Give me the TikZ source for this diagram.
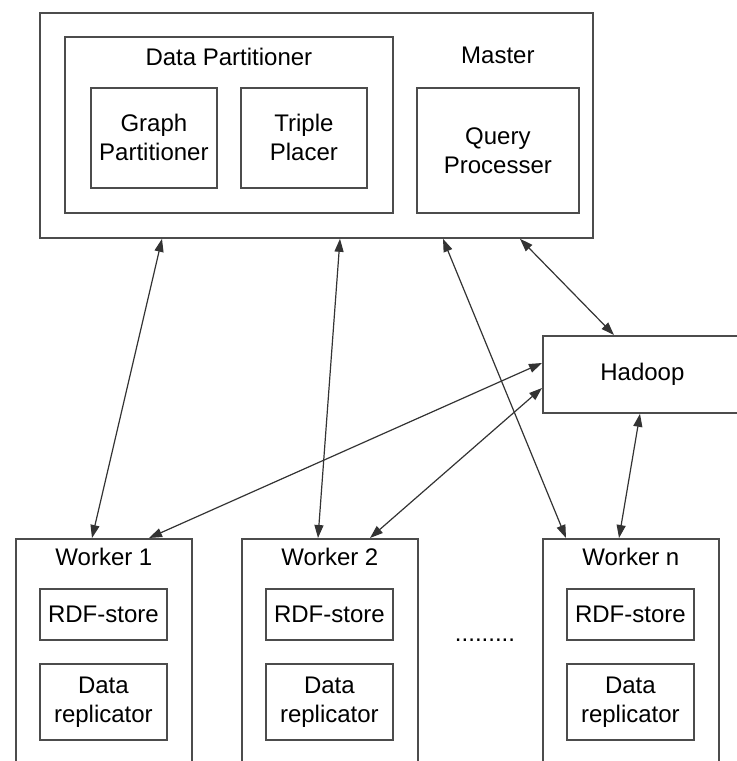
\documentclass[tikz,border=0pt]{standalone}
\usepackage{fontspec}
\setmainfont{Liberation Sans}
\usetikzlibrary{arrows.meta,calc}
\tikzset{
  box/.style={draw=black!70, line width=.9pt, inner sep=0pt, anchor=north west,
    align=center, font=\fontsize{12}{14.5}\selectfont},
  caption/.style={inner sep=0pt, font=\fontsize{12}{14.5}\selectfont},
  link/.style={{Triangle[length=6.5pt,width=4.5pt]}-{Triangle[length=6.5pt,width=4.5pt]},
    draw=black!80, line width=.6pt},
}
\begin{document}
\begin{tikzpicture}[x=0.5pt,y=-0.5pt]
\clip (0,0) rectangle (737,761);
% master and its parts
\node[box, minimum width=276.5pt, minimum height=112.5pt] (master) at (39,12) {};
\node[box, minimum width=164pt, minimum height=88pt] (dpart) at (64,36) {};
\node[caption] at ($(dpart.north)+(0,21)$) {Data Partitioner};
\node[box, minimum width=63pt, minimum height=50pt] (gpart) at (90,87) {Graph\\Partitioner};
\node[box, minimum width=63pt, minimum height=50pt] (tplacer) at (240,87) {Triple\\Placer};
\node[box, minimum width=81pt, minimum height=62.5pt] (qproc) at (416,87) {Query\\Processer};
\node[caption] at ($(qproc.north)+(0,-32)$) {Master};
% hadoop
\node[box, minimum width=99.5pt, minimum height=38.5pt] (hadoop) at (542,335) {Hadoop};
% workers
\foreach \x/\name/\txt in {15/w1/Worker 1, 241/w2/Worker 2, 542/wn/Worker n} {
  \node[box, minimum width=88pt, minimum height=121pt] (\name) at (\x,538) {};
  \node[caption] at ($(\name.north)+(0,19)$) {\txt};
  \node[box, minimum width=63.5pt, minimum height=25.5pt] (\name-rdf)
    at ($(\name.north west)+(24,50)$) {RDF-store};
  \node[box, minimum width=63.5pt, minimum height=38pt] (\name-rep)
    at ($(\name.north west)+(24,125)$) {Data\\replicator};
}
\node[caption] (dots) at (485,640) {.........};
% connections
\draw[link] ($(master.south west)+(123,0)$) -- ($(w1.north west)+(77,0)$);
\draw[link] ($(master.south west)+(301,0)$) -- ($(w2.north west)+(77,0)$);
\draw[link] ($(master.south west)+(404,0)$) -- ($(wn.north west)+(24,0)$);
\draw[link] ($(master.south west)+(481,0)$) -- ($(hadoop.north west)+(72,0)$);
\draw[link] ($(hadoop.north west)+(0,28)$) -- ($(w1.north west)+(134,0)$);
\draw[link] ($(hadoop.north west)+(0,53)$) -- ($(w2.north west)+(129,0)$);
\draw[link] ($(hadoop.south west)+(98,0)$) -- ($(wn.north west)+(77,0)$);
\end{tikzpicture}
\end{document}
